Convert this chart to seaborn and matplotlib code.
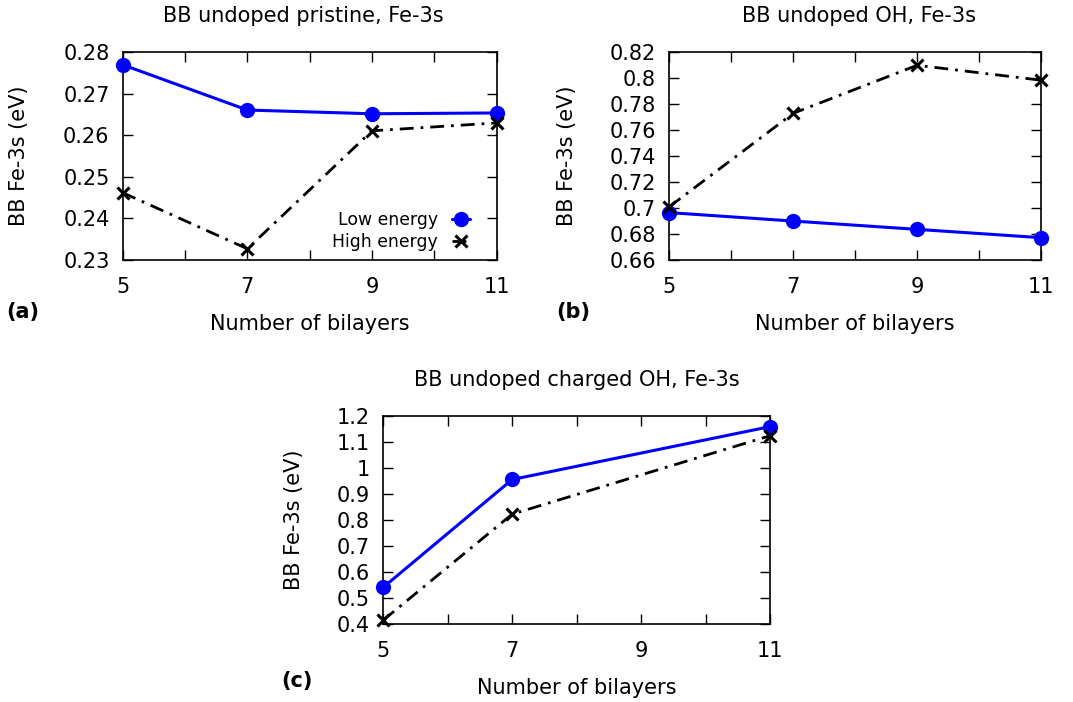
import matplotlib
matplotlib.use("Agg")
import matplotlib.pyplot as plt
import seaborn as sns
import pandas as pd

sns.set_style("ticks")
plt.rcParams['font.family'] = ['DejaVu Sans']
plt.rcParams.update({"text.color": "black", "axes.labelcolor": "black",
                     "xtick.color": "black", "ytick.color": "black"})

# ---- data ----
bilayers = [5, 7, 9, 11]
a_low = [0.2770, 0.2661, 0.2652, 0.2654]
a_high = [0.2462, 0.2327, 0.2611, 0.2630]
b_low = [0.6965, 0.6900, 0.6836, 0.6772]
b_high = [0.7010, 0.7730, 0.8100, 0.7985]
c_bilayers = [5, 7, 11]
c_low = [0.541, 0.955, 1.158]
c_high = [0.415, 0.822, 1.123]

titles = ["BB undoped pristine, Fe-3s", "BB undoped OH, Fe-3s", "BB undoped charged OH, Fe-3s"]
panel_tags = ["(a)", "(b)", "(c)"]
xlabel = "Number of bilayers"
ylabel = "BB Fe-3s (eV)"
a_yticks = [0.23, 0.24, 0.25, 0.26, 0.27, 0.28]
b_yticks = [0.66, 0.68, 0.70, 0.72, 0.74, 0.76, 0.78, 0.80, 0.82]
c_yticks = [0.4, 0.5, 0.6, 0.7, 0.8, 0.9, 1.0, 1.1, 1.2]
xticks = [5, 6, 7, 8, 9, 10, 11]
xticklabels = ["5", "", "7", "", "9", "", "11"]

W, H = 1073, 702
fig = plt.figure(figsize=(W / 100, H / 100), dpi=100)

def fr(x0, y0, x1, y1):
    return [x0 / W, 1 - y1 / H, (x1 - x0) / W, (y1 - y0) / H]

axes_pos = [fr(122.7, 52.3, 496.7, 260), fr(669.3, 52.3, 1041, 260), fr(383.3, 415.7, 770, 624)]
ylabel_pos = [(19, 156), (567, 156), (294, 520)]
title_pos = [(303, 22), (859, 22), (576.5, 385.7)]
tag_pos = [(23, 312), (573, 312), (297, 681)]

datasets = [
    (bilayers, a_low, a_high, a_yticks),
    (bilayers, b_low, b_high, b_yticks),
    (c_bilayers, c_low, c_high, c_yticks),
]

FS = 15
dashdot = (0, (5, 2.5, 1, 2.5))

for i, (xs, low, high, yt) in enumerate(datasets):
    ax = fig.add_axes(axes_pos[i])
    df = pd.DataFrame({"n": xs, "low": low, "high": high})
    sns.lineplot(data=df, x="n", y="low", ax=ax, color="#0000ff", lw=2.2,
                 marker="o", markersize=11, markeredgecolor="#0000ff",
                 markeredgewidth=0, label="Low energy", clip_on=False, zorder=3)
    sns.lineplot(data=df, x="n", y="high", ax=ax, color="black", lw=2.0,
                 linestyle=dashdot, marker="x", markersize=9,
                 markeredgecolor="black", markeredgewidth=2.2,
                 label="High energy", clip_on=False, zorder=4)
    ax.set_xlim(5, 11)
    ax.set_ylim(yt[0], yt[-1])
    ax.set_xticks(xticks)
    ax.set_xticklabels(xticklabels)
    ax.set_yticks(yt)
    ax.set_yticklabels([f"{v:g}" for v in yt])
    ax.tick_params(direction="in", length=7, width=1, top=True, right=True,
                   labelsize=FS, colors="black")
    ax.tick_params(axis="x", pad=12.5)
    ax.tick_params(axis="y", pad=9.5)
    for s in ax.spines.values():
        s.set_linewidth(1.2)
        s.set_color("black")
    ax.set_xlabel(xlabel, fontsize=FS, labelpad=12)
    ax.set_ylabel("")
    if i == 0:
        ax.legend(loc="lower right", bbox_to_anchor=(0.947, 0.012), borderaxespad=0,
                  markerfirst=False, frameon=False, fontsize=12.4,
                  handlelength=1.05, handletextpad=0.8, labelspacing=0.2)
    else:
        leg = ax.get_legend()
        if leg is not None:
            leg.remove()
    fig.text(ylabel_pos[i][0] / W, 1 - ylabel_pos[i][1] / H, ylabel,
             rotation=90, ha="center", va="center", fontsize=FS)
    fig.text(title_pos[i][0] / W, 1 - title_pos[i][1] / H, titles[i],
             ha="center", va="baseline", fontsize=FS)
    fig.text(tag_pos[i][0] / W, 1 - tag_pos[i][1] / H, panel_tags[i],
             ha="center", va="center", fontsize=FS, fontweight="bold")

fig.savefig("out.png", dpi=100, facecolor="white")
